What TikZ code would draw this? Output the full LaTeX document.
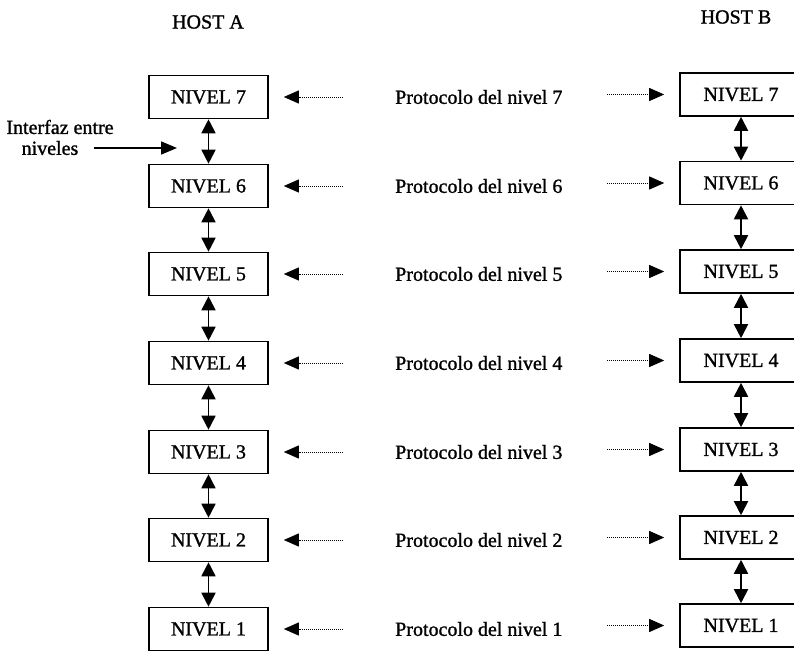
\documentclass[tikz,border=0pt]{standalone}
\usepackage{fontspec}
\setmainfont{Liberation Serif}[BoldFont=Liberation Serif, BoldFeatures={FakeBold=1.2}]
\usetikzlibrary{arrows.meta}
\begin{document}
\begin{tikzpicture}[x=1pt,y=-1pt,
 lvl/.style={draw, line width=1.6pt, minimum width=119pt, minimum height=43pt, inner sep=0pt, font=\fontsize{20}{24}\selectfont\bfseries},
 lbl/.style={inner sep=0pt, font=\fontsize{20}{24}\selectfont\bfseries},
 dbl/.style={line width=1.8pt, {Triangle[length=14pt,width=14pt]}-{Triangle[length=14pt,width=14pt]}},
 proto/.style={line width=0.9pt, dash pattern=on 1pt off 1pt, -{Triangle[length=15pt,width=13pt]}},
 solidarrow/.style={line width=1.6pt, -{Triangle[length=16pt,width=13pt]}}]
\useasboundingbox (0,0) rectangle (794,655);
\clip (0,0) rectangle (794,655);
\node[lbl] (hA) at (208,22) {HOST A};
\node[lbl] (hB) at (736,17) {HOST B};
\foreach \n/\yl/\yr in {7/97/94.5, 6/186/183, 5/274/271.5, 4/363/360.5, 3/452/449.5, 2/540/537.5, 1/629/625.5}{
  \node[lvl] (a\n) at (208.5,\yl) {NIVEL \n};
  \node[lvl, minimum width=122pt] (b\n) at (741,\yr) {NIVEL \n};
  \node[lbl, anchor=west] (p\n) at (395,\yl) {Protocolo del nivel \n};
  \coordinate (la\n) at (343,\yl);
  \coordinate (rb\n) at (607,\yr);
  \draw[proto] (la\n) -- ([xshift=15pt]a\n.east);
  \draw[proto] (rb\n) -- ([xshift=-15pt]b\n.west);
}
\foreach \n/\m in {7/6,6/5,5/4,4/3,3/2,2/1}{
  \draw[dbl] (a\n) -- (a\m);
  \draw[dbl] (b\n) -- (b\m);
}
\node[lbl] (if1) at (60,127) {Interfaz entre};
\node[lbl] (if2) at (50,148) {niveles};
\coordinate (ifa) at (177,148);
\draw[solidarrow] ([xshift=15pt]if2.east) -- (ifa);
\end{tikzpicture}
\end{document}
